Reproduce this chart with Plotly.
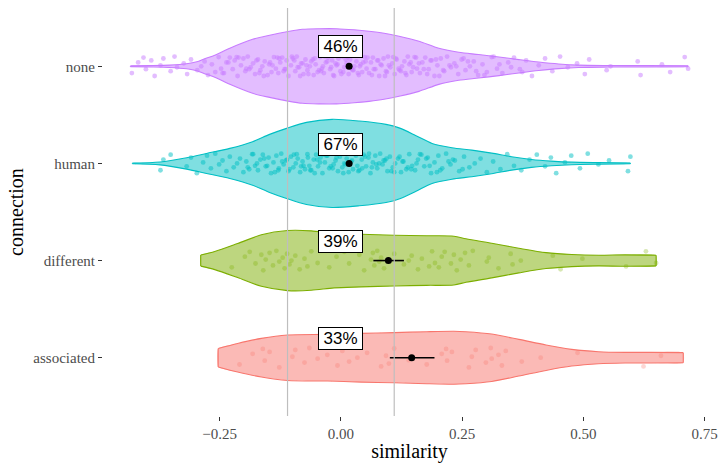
import plotly.graph_objects as go

# ---------------- data ----------------
CATEGORIES = ["associated", "different", "human", "none"]
COLORS = {"associated": "#F8766D", "different": "#7CAE00", "human": "#00BFC4", "none": "#C77CFF"}
FILLS = {"associated": "rgba(248,118,109,0.5)", "different": "rgba(124,174,0,0.5)",
         "human": "rgba(0,191,196,0.5)", "none": "rgba(199,124,255,0.5)"}

# violin outlines: similarity value and half-width (in category units)
NONE_PROF_X = [-0.434, -0.394, -0.353, -0.318, -0.297, -0.281, -0.260, -0.229, -0.182, -0.147, -0.106,
               -0.079, -0.044, -0.009, 0.027, 0.058, 0.089, 0.120, 0.161, 0.202, 0.243, 0.284, 0.326,
               0.367, 0.408, 0.449, 0.490, 0.552, 0.634, 0.716]
NONE_PROF_W = [0.004, 0.007, 0.012, 0.026, 0.046, 0.077, 0.113, 0.186, 0.278, 0.320, 0.361,
               0.381, 0.387, 0.387, 0.376, 0.361, 0.340, 0.309, 0.258, 0.186, 0.144, 0.121, 0.096,
               0.069, 0.044, 0.024, 0.012, 0.008, 0.007, 0.005]
HUMAN_PROF_X = [-0.430, -0.373, -0.318, -0.277, -0.229, -0.182, -0.147, -0.112, -0.071, -0.018, 0.038,
                0.093, 0.120, 0.155, 0.188, 0.229, 0.270, 0.311, 0.352, 0.393, 0.434, 0.476, 0.531, 0.597]
HUMAN_PROF_W = [0.003, 0.015, 0.059, 0.103, 0.155, 0.224, 0.299, 0.361, 0.423, 0.454, 0.436,
                0.402, 0.366, 0.286, 0.206, 0.162, 0.137, 0.106, 0.069, 0.041, 0.024, 0.013, 0.008, 0.004]
DIFF_PROF_X = [-0.289, -0.260, -0.213, -0.164, -0.110, -0.061, -0.014, 0.042, 0.110, 0.177, 0.233,
               0.258, 0.311, 0.367, 0.423, 0.476, 0.531, 0.586, 0.650]
DIFF_PROF_W = [0.057, 0.093, 0.175, 0.265, 0.309, 0.306, 0.281, 0.271, 0.261, 0.255, 0.251,
               0.224, 0.178, 0.127, 0.082, 0.062, 0.055, 0.059, 0.055]
ASSOC_PROF_X = [-0.253, -0.213, -0.164, -0.110, -0.028, 0.042, 0.110, 0.177, 0.233, 0.258, 0.311,
                0.367, 0.423, 0.476, 0.531, 0.586, 0.640, 0.706]
ASSOC_PROF_W = [0.095, 0.147, 0.199, 0.234, 0.240, 0.251, 0.258, 0.268, 0.273, 0.268, 0.244,
                0.189, 0.131, 0.086, 0.062, 0.055, 0.055, 0.052]

# individual observations (jittered points)
NONE_PTS = [-0.431, -0.418, -0.407, -0.402, -0.391, -0.384, -0.372, -0.366, -0.351, -0.343, -0.338,
            -0.324, -0.317, -0.309, -0.296, -0.288, -0.281, -0.274, -0.266, -0.259, -0.252, -0.247,
            -0.241, -0.236, -0.229, -0.223, -0.219, -0.213, -0.206, -0.201, -0.197, -0.192, -0.186,
            -0.181, -0.177, -0.171, -0.166, -0.162, -0.157, -0.151, -0.148, -0.143, -0.138, -0.134,
            -0.129, -0.125, -0.121, -0.116, -0.112, -0.108, -0.103, -0.099, -0.094, -0.091, -0.086,
            -0.082, -0.077, -0.073, -0.069, -0.064, -0.061, -0.056, -0.052, -0.048, -0.043, -0.039,
            -0.035, -0.031, -0.026, -0.022, -0.018, -0.014, -0.009, -0.005, -0.001, 0.003, 0.007,
            0.012, 0.016, 0.019, 0.024, 0.028, 0.032, 0.037, 0.041, 0.044, 0.049, 0.053, 0.058,
            0.062, 0.066, 0.071, 0.075, 0.079, 0.084, 0.088, 0.093, 0.097, 0.102, 0.106, 0.111,
            0.115, 0.121, 0.126, 0.131, 0.135, 0.141, 0.146, 0.152, 0.157, 0.163, 0.168, 0.174,
            0.181, 0.187, 0.193, 0.199, 0.206, 0.213, 0.219, 0.227, 0.234, 0.242, 0.249, 0.257,
            0.266, 0.274, 0.283, 0.292, 0.301, 0.311, 0.322, 0.333, 0.345, 0.357, 0.369, 0.382,
            0.394, 0.408, 0.421, 0.436, 0.452, 0.468, 0.487, 0.503, 0.512, 0.548, 0.556, 0.612,
            0.618, 0.662, 0.679, 0.709, 0.716,
            -0.244, -0.232, -0.211, -0.189, -0.174, -0.159, -0.141, -0.127, -0.118, -0.101, -0.089,
            -0.079, -0.067, -0.058, -0.045, -0.037, -0.028, -0.016, -0.007, 0.005, 0.014, 0.022,
            0.035, 0.046, 0.055, 0.068, 0.077, 0.091, 0.099, 0.113, 0.124, 0.138, 0.149, 0.161,
            0.178, 0.196, 0.211, 0.238, 0.262, 0.296, 0.327, 0.374,
            -0.215, -0.195, -0.168, -0.146, -0.131, -0.114, -0.096, -0.084, -0.071, -0.054, -0.041,
            -0.033, -0.020, -0.011, 0.001, 0.010, 0.026, 0.039, 0.051, 0.064, 0.082, 0.095, 0.108,
            0.119, 0.133, 0.144, 0.155, 0.171, 0.185, 0.203, 0.224, 0.253, 0.279, 0.315, 0.351]
HUMAN_PTS = [-0.372, -0.366, -0.351, -0.318, -0.309, -0.297, -0.284, -0.276, -0.268, -0.259, -0.251,
             -0.244, -0.236, -0.229, -0.221, -0.214, -0.208, -0.201, -0.195, -0.189, -0.183, -0.177,
             -0.171, -0.166, -0.161, -0.155, -0.149, -0.144, -0.139, -0.133, -0.128, -0.123, -0.118,
             -0.113, -0.108, -0.103, -0.098, -0.093, -0.089, -0.084, -0.079, -0.074, -0.069, -0.065,
             -0.061, -0.056, -0.051, -0.047, -0.042, -0.038, -0.033, -0.028, -0.024, -0.019, -0.015,
             -0.011, -0.006, -0.002, 0.003, 0.007, 0.012, 0.016, 0.021, 0.025, 0.029, 0.034, 0.038,
             0.043, 0.047, 0.052, 0.057, 0.061, 0.066, 0.071, 0.075, 0.081, 0.086, 0.091, 0.096,
             0.101, 0.107, 0.112, 0.118, 0.124, 0.129, 0.135, 0.141, 0.147, 0.153, 0.159, 0.166,
             0.172, 0.179, 0.186, 0.193, 0.201, 0.209, 0.217, 0.226, 0.235, 0.244, 0.254, 0.265,
             0.276, 0.288, 0.301, 0.314, 0.329, 0.343, 0.357, 0.372, 0.389, 0.404, 0.421, 0.433,
             0.444, 0.462, 0.475, 0.493, 0.509, 0.531, 0.553, 0.592, 0.597,
             -0.192, -0.173, -0.158, -0.136, -0.121, -0.106, -0.091, -0.077, -0.063, -0.049, -0.036,
             -0.021, -0.009, 0.005, 0.018, 0.031, 0.044, 0.058, 0.073, 0.088, 0.104, 0.121, 0.138,
             0.156, 0.176, 0.198, 0.222, 0.251,
             -0.181, -0.152, -0.129, -0.111, -0.097, -0.082, -0.068, -0.054, -0.043, -0.030, -0.017,
             -0.004, 0.009, 0.023, 0.036, 0.050, 0.064, 0.079, 0.094, 0.110, 0.127, 0.145, 0.163,
             0.183, 0.205, 0.231]
DIFF_PTS = [-0.225, -0.198, -0.188, -0.176, -0.164, -0.160, -0.155, -0.147, -0.140, -0.133, -0.127,
            -0.120, -0.116, -0.111, -0.106, -0.102, -0.094, -0.085, -0.075, -0.069, -0.061, -0.048,
            -0.024, -0.009, 0.007, 0.017, 0.038, 0.048, 0.062, 0.066, 0.069, 0.075, 0.079, 0.083,
            0.089, 0.110, 0.130, 0.140, 0.146, 0.159, 0.167, 0.182, 0.188, 0.194, 0.202, 0.208,
            0.214, 0.227, 0.233, 0.239, 0.247, 0.256, 0.264, 0.272, 0.301, 0.305, 0.325, 0.350,
            0.354, 0.371, 0.437, 0.453, 0.498, 0.588, 0.629, 0.650]
ASSOC_PTS = [-0.209, -0.182, -0.161, -0.157, -0.147, -0.127, -0.100, -0.094, -0.075, -0.065, -0.048,
             -0.028, -0.007, 0.003, 0.017, 0.034, 0.054, 0.083, 0.093, 0.099, 0.110, 0.140, 0.177,
             0.208, 0.217, 0.219, 0.229, 0.264, 0.270, 0.278, 0.299, 0.309, 0.311, 0.325, 0.332,
             0.340, 0.373, 0.412, 0.488, 0.624, 0.660]

# summary: mean and interval, plus the label percentage
MEANS = {"associated": 0.146, "different": 0.098, "human": 0.017, "none": 0.017}
ERR_LO = {"associated": 0.045, "different": 0.031, "human": 0.005, "none": 0.005}
ERR_HI = {"associated": 0.047, "different": 0.032, "human": 0.005, "none": 0.005}
PCT_LABELS = {"associated": "33%", "different": "39%", "human": "67%", "none": "46%"}
LABEL_X = 0.0
VLINES = [-0.11, 0.11]

X_TICKS = [-0.25, 0.0, 0.25, 0.5, 0.75]
X_TICKTEXT = ["\u22120.25", "0.00", "0.25", "0.50", "0.75"]

PROFILES = {"none": (NONE_PROF_X, NONE_PROF_W), "human": (HUMAN_PROF_X, HUMAN_PROF_W),
            "different": (DIFF_PROF_X, DIFF_PROF_W), "associated": (ASSOC_PROF_X, ASSOC_PROF_W)}
POINTS = {"none": NONE_PTS, "human": HUMAN_PTS, "different": DIFF_PTS, "associated": ASSOC_PTS}
POINT_ALPHA = {"none": 0.5, "human": 0.5, "different": 0.3, "associated": 0.3}

# jitter pattern (style only)
JITTER = [-0.07, 0.04, 0.09, -0.03, 0.06, -0.10, 0.01, 0.08, -0.05, 0.10, -0.01, 0.03, -0.08, 0.07,
          -0.04, 0.0, 0.05, -0.09, 0.02, -0.06, 0.095, -0.025]

fig = go.Figure()

for i, cat in enumerate(CATEGORIES):
    px_, pw = PROFILES[cat]
    xs = list(px_) + list(reversed(px_)) + [px_[0]]
    ys = [i + w for w in pw] + [i - w for w in reversed(pw)] + [i + pw[0]]
    fig.add_trace(go.Scatter(x=xs, y=ys, mode="lines", fill="toself", fillcolor=FILLS[cat],
                             line=dict(color="rgba(0,0,0,0)", width=0, shape="spline", smoothing=0.5),
                             hoverinfo="skip", showlegend=False))
    for sgn in (1, -1):
        fig.add_trace(go.Scatter(x=px_, y=[i + sgn * w for w in pw], mode="lines",
                                 line=dict(color=COLORS[cat], width=1.1, shape="spline", smoothing=0.8),
                                 hoverinfo="skip", showlegend=False))
    for k in (0, -1):
        fig.add_trace(go.Scatter(x=[px_[k], px_[k]], y=[i - pw[k], i + pw[k]], mode="lines",
                                 line=dict(color=COLORS[cat], width=1.1),
                                 hoverinfo="skip", showlegend=False))

for i, cat in enumerate(CATEGORIES):
    pts = POINTS[cat]
    ys = [i + JITTER[k % len(JITTER)] for k in range(len(pts))]
    fig.add_trace(go.Scatter(x=pts, y=ys, mode="markers",
                             marker=dict(color=COLORS[cat], size=4.8, opacity=POINT_ALPHA[cat],
                                         line=dict(width=0)),
                             hoverinfo="skip", showlegend=False))

for i, cat in enumerate(CATEGORIES):
    fig.add_trace(go.Scatter(x=[MEANS[cat]], y=[i], mode="markers",
                             marker=dict(color="black", size=7),
                             error_x=dict(type="data", symmetric=False, array=[ERR_HI[cat]],
                                          arrayminus=[ERR_LO[cat]], color="black", thickness=1.6, width=0),
                             hoverinfo="skip", showlegend=False))

for v in VLINES:
    fig.add_shape(type="line", xref="x", yref="paper", x0=v, x1=v, y0=0, y1=1,
                  line=dict(color="#BEBEBE", width=1.2), layer="above")

for i, cat in enumerate(CATEGORIES):
    fig.add_annotation(x=LABEL_X, y=i + 0.2, text=PCT_LABELS[cat], showarrow=False,
                       font=dict(family="Liberation Sans, Arial", size=17, color="black"),
                       bgcolor="white", bordercolor="black", borderwidth=1, borderpad=0,
                       width=43, height=21)

fig.update_layout(
    width=721, height=463,
    margin=dict(l=103, r=3, t=8, b=47),
    paper_bgcolor="white", plot_bgcolor="white",
    hovermode=False,
    font=dict(family="Liberation Serif, Times New Roman, serif"),
    xaxis=dict(range=[-0.4905, 0.7735], tickvals=X_TICKS, ticktext=X_TICKTEXT,
               showgrid=False, zeroline=False, showline=False,
               ticks="outside", ticklen=4, tickwidth=1.2, tickcolor="#333333",
               tickfont=dict(family="Liberation Serif", size=15, color="#4D4D4D"),
               title=dict(text="similarity", font=dict(family="Liberation Serif", size=20, color="black"),
                          standoff=2)),
    yaxis=dict(range=[-0.6, 3.6], tickvals=list(range(len(CATEGORIES))), ticktext=CATEGORIES,
               showgrid=False, zeroline=False, showline=False,
               ticks="outside", ticklen=4, tickwidth=1.2, tickcolor="#333333",
               tickfont=dict(family="Liberation Serif", size=15, color="#4D4D4D"),
               title=dict(text="connection", font=dict(family="Liberation Serif", size=20, color="black"),
                          standoff=4)),
)

fig.write_html("out.html", config={"displayModeBar": False},
               post_script="document.body.style.margin='0';document.body.style.overflow='hidden';")
